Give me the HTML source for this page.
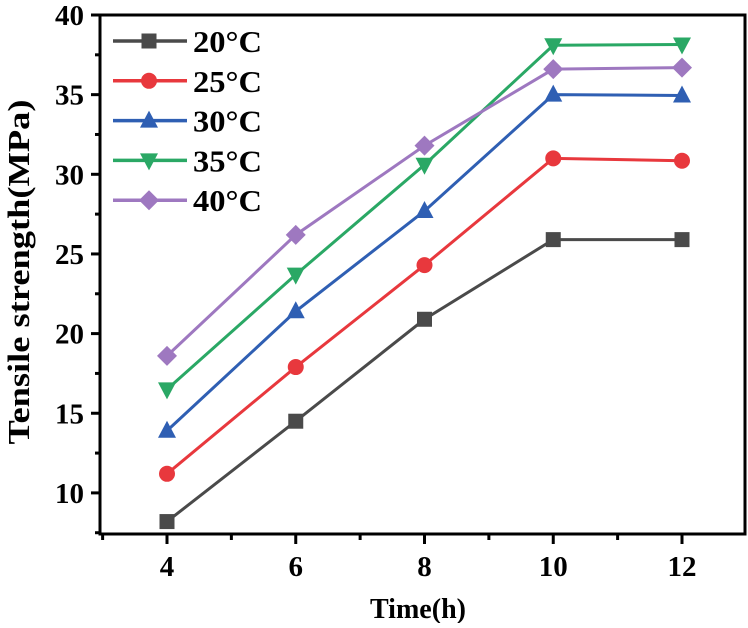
<!DOCTYPE html>
<html><head><meta charset="utf-8"><style>
body{margin:0;background:#fff;}
svg text{font-family:"Liberation Serif",serif;font-weight:bold;fill:#000;}
</style></head><body>
<svg id="c" width="748" height="623" viewBox="0 0 748 623" xmlns="http://www.w3.org/2000/svg"></svg>
<script>
const s=document.getElementById('c');
const X=v=>167+(v-4)*64.375, Y=v=>15+(40-v)*15.93;
let h='';
h+='<rect x="100" y="15" width="645" height="519" fill="none" stroke="#000" stroke-width="3"/>';
for(let v=10;v<=40;v+=5){const y=Y(v);h+=`<line x1="91" x2="100" y1="${y}" y2="${y}" stroke="#000" stroke-width="3"/><text x="84" y="${y+10}" font-size="29" text-anchor="end">${v}</text>`;}
for(let v=7.5;v<40;v+=5){const y=Y(v);if(y<534)h+=`<line x1="95" x2="100" y1="${y}" y2="${y}" stroke="#000" stroke-width="3"/>`;}
for(let v=4;v<=12;v+=2){const x=X(v);h+=`<line x1="${x}" x2="${x}" y1="534" y2="544" stroke="#000" stroke-width="3"/><text x="${x}" y="576" font-size="29" text-anchor="middle">${v}</text>`;}
for(let v=3;v<=13;v+=2){const x=X(v);if(x>=100&&x<=745)h+=`<line x1="${x}" x2="${x}" y1="534" y2="540" stroke="#000" stroke-width="3"/>`;}
h+='<text x="418" y="618" font-size="29" text-anchor="middle" textLength="96" lengthAdjust="spacingAndGlyphs">Time(h)</text>';
h+='<text transform="translate(29,272) rotate(-90)" font-size="31" text-anchor="middle" textLength="345" lengthAdjust="spacingAndGlyphs">Tensile strength(MPa)</text>';
const S=[
 ['#4a4a4a','sq',[8.2,14.5,20.9,25.9,25.9],'20°C'],
 ['#e8383d','ci',[11.2,17.9,24.3,31.0,30.85],'25°C'],
 ['#2f5fb3','tu',[13.9,21.4,27.7,35.0,34.95],'30°C'],
 ['#2aa865','td',[16.5,23.7,30.6,38.1,38.15],'35°C'],
 ['#9e78c0','di',[18.6,26.2,31.8,36.6,36.7],'40°C']];
function mk(t,x,y,c){
 if(t=='sq')return `<rect x="${x-7.5}" y="${y-7.5}" width="15" height="15" fill="${c}"/>`;
 if(t=='ci')return `<circle cx="${x}" cy="${y}" r="8" fill="${c}"/>`;
 if(t=='tu')return `<polygon points="${x},${y-10} ${x+9},${y+7} ${x-9},${y+7}" fill="${c}"/>`;
 if(t=='td')return `<polygon points="${x},${y+10} ${x+9},${y-7} ${x-9},${y-7}" fill="${c}"/>`;
 return `<polygon points="${x},${y-10} ${x+10},${y} ${x},${y+10} ${x-10},${y}" fill="${c}"/>`;
}
S.forEach((d,i)=>{
 const pts=d[2].map((v,j)=>[X(4+2*j),Y(v)]);
 h+=`<polyline points="${pts.map(p=>p.join(',')).join(' ')}" fill="none" stroke="${d[0]}" stroke-width="3"/>`;
 pts.forEach(p=>h+=mk(d[1],p[0],p[1],d[0]));
 const ly=41+i*39.8;
 h+=`<line x1="113" x2="187" y1="${ly}" y2="${ly}" stroke="${d[0]}" stroke-width="3.5"/>`+mk(d[1],149,ly,d[0]);
 h+=`<text x="193" y="${ly+11}" font-size="31" textLength="69" lengthAdjust="spacingAndGlyphs">${d[3]}</text>`;
});
s.innerHTML=h;
</script>
</body></html>
